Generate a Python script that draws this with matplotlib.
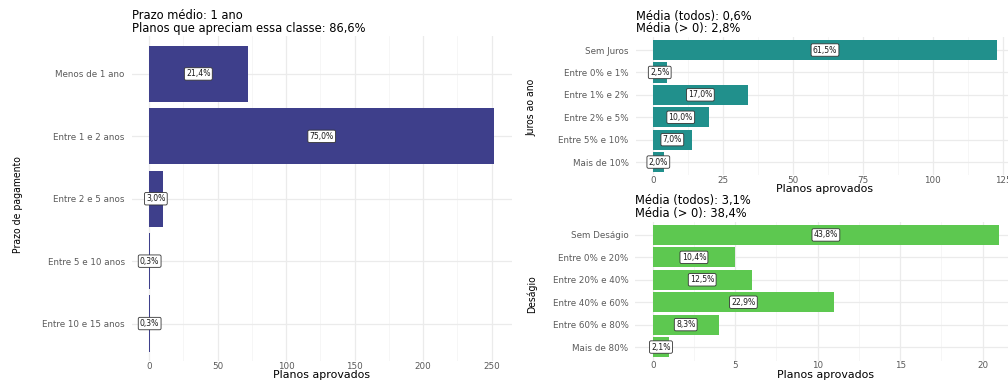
import matplotlib
matplotlib.use("Agg")
import matplotlib.pyplot as plt
from matplotlib.ticker import MultipleLocator

# ---- data ----
prazo_cats = ["Menos de 1 ano", "Entre 1 e 2 anos", "Entre 2 e 5 anos",
              "Entre 5 e 10 anos", "Entre 10 e 15 anos"]
prazo_counts = [72, 252, 10, 1, 1]
prazo_labels = ["21,4%", "75,0%", "3,0%", "0,3%", "0,3%"]
prazo_title = "Prazo médio: 1 ano\nPlanos que apreciam essa classe: 86,6%"

juros_cats = ["Sem Juros", "Entre 0% e 1%", "Entre 1% e 2%", "Entre 2% e 5%",
              "Entre 5% e 10%", "Mais de 10%"]
juros_counts = [123, 5, 34, 20, 14, 4]
juros_labels = ["61,5%", "2,5%", "17,0%", "10,0%", "7,0%", "2,0%"]
juros_title = "Média (todos): 0,6%\nMédia (> 0): 2,8%"

desagio_cats = ["Sem Deságio", "Entre 0% e 20%", "Entre 20% e 40%", "Entre 40% e 60%",
                "Entre 60% e 80%", "Mais de 80%"]
desagio_counts = [21, 5, 6, 11, 4, 1]
desagio_labels = ["43,8%", "10,4%", "12,5%", "22,9%", "8,3%", "2,1%"]
desagio_title = "Média (todos): 3,1%\nMédia (> 0): 38,4%"

W, H = 1008, 380
plt.rcParams["font.family"] = ["DejaVu Sans"]
fig = plt.figure(figsize=(W / 100, H / 100), dpi=100)
fig.patch.set_facecolor("white")
ftr = fig.transFigure


def ax_px(x0, x1, ytop, ybot):
    return fig.add_axes([x0 / W, 1 - ybot / H, (x1 - x0) / W, (ybot - ytop) / H])


def panel(ax, cats, counts, labels, color, title, ylabel, xmaj, xmin_step,
          ylab_x, ylab_y, xlab_top):
    n = len(cats)
    pos = list(range(n))
    ax.barh(pos, counts, height=0.9, color=color, zorder=2)
    m = max(counts)
    ax.set_xlim(-0.05 * m, 1.05 * m)
    ax.set_ylim(n - 0.4, -0.6)
    ax.set_yticks(pos)
    ax.set_yticklabels(cats)
    ax.xaxis.set_major_locator(MultipleLocator(xmaj))
    ax.xaxis.set_minor_locator(MultipleLocator(xmin_step))
    ax.grid(True, which="major", color="#EBEBEB", lw=0.9, zorder=0)
    ax.grid(True, which="minor", axis="x", color="#F3F3F3", lw=0.5, zorder=0)
    ax.set_axisbelow(True)
    for s in ax.spines.values():
        s.set_visible(False)
    ax.tick_params(which="both", length=0, labelsize=6.3, labelcolor="#5A5A5A")
    ax.tick_params(axis="y", pad=5)
    ax.tick_params(axis="x", pad=0.5)
    for p, c, l in zip(pos, counts, labels):
        ax.text(c / 2, p, l, ha="center", va="center", fontsize=5.6, color="#1a1a1a",
                bbox=dict(boxstyle="round,pad=0.22,rounding_size=0.2", fc="white",
                          ec="#333333", lw=0.6), zorder=4)
    bb = ax.get_position()
    ax.set_xlabel("Planos aprovados", fontsize=7.9)
    ax.xaxis.set_label_coords((bb.x0 + bb.x1) / 2, 1 - xlab_top / H, transform=ftr)
    ax.set_ylabel(ylabel, fontsize=7.5, fontstretch="condensed")
    ax.yaxis.set_label_coords(ylab_x / W, 1 - ylab_y / H, transform=ftr)
    ax.set_title(title, loc="left", fontsize=8.3, pad=3.5, linespacing=0.92)
    ax.title.set_x(-0.047)


axL = ax_px(131.7, 511.7, 36.5, 361)
panel(axL, prazo_cats, prazo_counts, prazo_labels, "#3E3F8B", prazo_title,
      "Prazo de pagamento", 50, 25, 23, 205, 370.5)

axT = ax_px(635.5, 1014.5, 36.6, 175.5)
panel(axT, juros_cats, juros_counts, juros_labels, "#21908C", juros_title,
      "Juros ao ano", 25, 12.5, 537, 107, 184)

axB = ax_px(635.4, 1016.4, 221.5, 360.5)
panel(axB, desagio_cats, desagio_counts, desagio_labels, "#5DC850", desagio_title,
      "Deságio", 5, 2.5, 537, 294, 370.5)

fig.savefig("out.png", dpi=100, facecolor="white")
